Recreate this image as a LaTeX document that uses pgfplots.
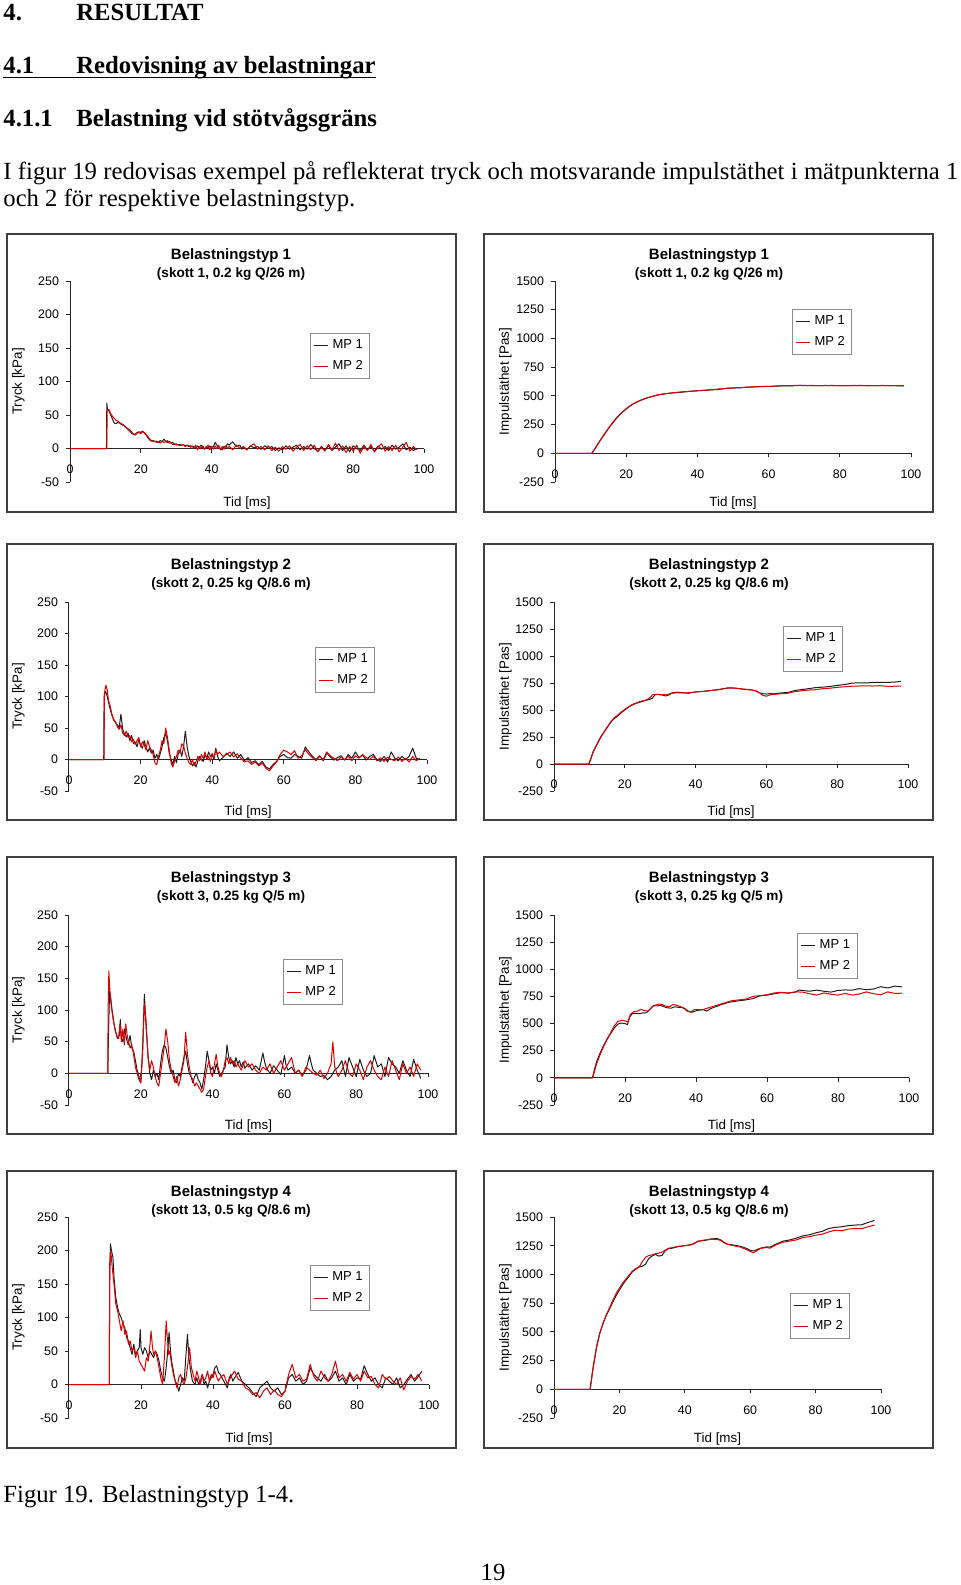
\documentclass[border=0pt]{standalone}
\usepackage{fontspec}
\setmainfont{Liberation Serif}
\newfontfamily\arial{Liberation Sans}
\usepackage{pgfplots}
\pgfplotsset{compat=1.18}
\definecolor{mpred}{RGB}{225,0,0}
\definecolor{mpblk}{RGB}{30,30,30}
\pgfplotsset{
  panel/.style={
    scale only axis, anchor=south west,
    xmin=0, xmax=100, xtick={0,20,...,100},
    axis x line=middle, axis y line=left,
    axis line style={-, black!85, line width=0.5pt},
    tick align=outside, major tick length=2pt,
    tick style={black!85, line width=0.5pt},
    hide obscured x ticks=false, hide obscured y ticks=false,
    /pgf/number format/assume math mode=true,
    /pgf/number format/1000 sep={},
    ticklabel style={font=\arial\fontsize{6.2}{7}\selectfont, text=black},
    xticklabel style={yshift=-2.5pt},
    legend style={draw=black!45, line width=0.5pt, fill=white,
      font=\arial\fontsize{6.5}{7.5}\selectfont, anchor=north west,
      inner xsep=1.5pt, inner ysep=1pt, row sep=0.5pt},
    legend cell align=left,
    legend image code/.code={\draw[#1] (0pt,0pt) -- (7pt,0pt);},
  },
  pres/.style={panel, ymin=-50, ymax=250, ytick={-50,0,...,250}},
  imp/.style={panel, ymin=-250, ymax=1500, ytick={-250,0,...,1500}},
  mp1/.style={color=mpblk, line width=0.5pt, line join=round},
  mp2/.style={color=mpred, line width=0.5pt, line join=round},
}
\newcommand{\bodyfont}{\fontsize{12.35}{14}\selectfont}
\newcommand{\titfont}{\arial\bfseries\fontsize{7.5}{9}\selectfont}
\newcommand{\subfont}{\arial\bfseries\fontsize{6.8}{8}\selectfont}
\newcommand{\labfont}{\arial\fontsize{6.7}{8}\selectfont}
\begin{document}
\begin{tikzpicture}
\begin{scope}[x=0.5pt,y=-0.5pt]
\path[use as bounding box] (0,0) rectangle (960,1585);
% page text
\node[anchor=base west, inner sep=0, font=\bodyfont\bfseries] at (3,20) {4.};
\node[anchor=base west, inner sep=0, font=\bodyfont\bfseries] at (76,20) {RESULTAT};
\node[anchor=base west, inner sep=0, font=\bodyfont\bfseries] (h41) at (3,73.5) {4.1};
\node[anchor=base west, inner sep=0, font=\bodyfont\bfseries] (red) at (76,73.5) {Redovisning av belastningar};
\draw[line width=0.6pt] ([yshift=-2pt]h41.base west) -- ([yshift=-2pt]red.base east);
\node[anchor=base west, inner sep=0, font=\bodyfont\bfseries] at (3,126) {4.1.1};
\node[anchor=base west, inner sep=0, font=\bodyfont\bfseries] at (76,126) {Belastning vid stötvågsgräns};
\node[anchor=base west, inner sep=0, font=\bodyfont] at (3,179) {\makebox[477.5pt][s]{I figur 19 redovisas exempel på reflekterat tryck och motsvarande impulstäthet i mätpunkterna 1}};
\node[anchor=base west, inner sep=0, font=\bodyfont] at (3,206) {och 2 för respektive belastningstyp.};
\node[anchor=base west, inner sep=0, font=\bodyfont] at (3,1502) {Figur 19. Belastningstyp 1-4.};
\node[anchor=base, inner sep=0, font=\bodyfont] at (493,1580) {19};
% frames
\foreach \t/\b in {234/512, 544/820, 857/1134, 1171/1448}{
  \draw[black!75, line width=0.7pt] (7,\t) rectangle (456,\b);
  \draw[black!75, line width=0.7pt] (484,\t) rectangle (933,\b);
}
% titles
\foreach \t/\n/\s in {234/1/{(skott 1, 0.2 kg Q/26 m)}, 544/2/{(skott 2, 0.25 kg Q/8.6 m)}, 857/3/{(skott 3, 0.25 kg Q/5 m)}, 1171/4/{(skott 13, 0.5 kg Q/8.6 m)}}{
  \node[anchor=base, inner sep=0, font=\titfont] at (231,\t+25.5) {Belastningstyp \n};
  \node[anchor=base, inner sep=0, font=\subfont] at (231,\t+43.5) {\s};
  \node[anchor=base, inner sep=0, font=\titfont] at (709,\t+25.5) {Belastningstyp \n};
  \node[anchor=base, inner sep=0, font=\subfont] at (709,\t+43.5) {\s};
}
% axis labels
\foreach \c/\yb/\xl/\xr in {381.5/506/247/733, 696.5/815/248/731, 1010/1129/248.5/731.5, 1317.5/1442/249/717.5}{
  \node[rotate=90, inner sep=0, font=\labfont] at (18.5,\c) {Tryck [kPa]};
  \node[rotate=90, inner sep=0, font=\labfont] at (505.5,\c) {Impulstäthet [Pas]};
  \node[anchor=base, inner sep=0, font=\labfont] at (\xl,\yb) {Tid [ms]};
  \node[anchor=base, inner sep=0, font=\labfont] at (\xr,\yb) {Tid [ms]};
}
\coordinate (A1) at (70,482);
\coordinate (B1) at (555,482);
\coordinate (A2) at (69,791);
\coordinate (B2) at (554,791);
\coordinate (A3) at (69,1105);
\coordinate (B3) at (554,1105);
\coordinate (A4) at (69,1418);
\coordinate (B4) at (554,1418);
\end{scope}

% ---------- Row 1 ----------
\begin{axis}[pres, at={(A1)}, width=177pt, height=100.5pt, legend style={at={(0.678,0.741)}}]
\addplot[mp1] coordinates {(0,0)(10.3,0)(10.4,68)(10.6,58)(11,56)(11.5,50)(12,44)(12.5,38)(13,37)(13.5,39)(14,38)(14.5,36)(15,35)(15.5,33)(16,31)(16.5,29)(17,27)(17.5,24)(18,21)(18.5,22)(19,24)(19.5,25)(20,24)(20.5,26)(21,23)(21.5,20)(22,16)(22.5,13)(23,11)(23.5,12)(24,10)(24.5,11)(25,9)(25.5,12)(26,10)(26.5,14)(27,11)(27.5,9)(28,11)(28.5,8)(29,9)(29.5,6)(30,7)(30.5,5)(31,6)(31.5,5)(32,6)(32.5,4)(33,5)(33.5,3)(34,4)(34.5,2)(35,3)(35.5,0)(36,4)(36.5,2)(37,5)(37.5,1)(38,-1)(38.5,3)(39,0)(39.5,4)(40,1)(40.5,3)(41,9)(41.5,5)(42,2)(42.5,-1)(43,-2)(43.5,3)(44,2)(44.5,7)(45,5)(45.5,8)(46,10)(46.5,6)(47,3)(48,5)(48.5,-1)(49,2)(50,-2)(51,4)(52,1)(53,3)(54,-1)(55,4)(56,0)(57,3)(58,-3)(59,1)(60,-2)(61,4)(62,-1)(63,2)(64,5)(65,-2)(66,3)(67,-1)(68,6)(69,0)(70,-4)(71,3)(72,-2)(73,4)(74,-3)(75,2)(76,7)(77,-3)(78,4)(79,-5)(80,4)(81,0)(82,-3)(83,5)(84,-2)(85,3)(86,-4)(87,4)(88,-1)(89,3)(90,-3)(91,5)(92,-1)(93,2)(94,7)(95,-2)(96,2)(97,-3)(98,0)};
\addlegendentry{MP 1}
\addplot[mp2] coordinates {(0,0)(10.4,0)(10.5,58)(11,58)(11.5,52)(12,48)(12.5,45)(13,42)(13.5,41)(14,39)(14.5,37)(15,36)(15.5,33)(16,30)(16.5,28)(17,25)(17.5,22)(18,21)(18.5,20)(19,23)(19.5,24)(20,22)(20.5,25)(21,24)(21.5,21)(22,18)(22.5,14)(23,12)(23.5,10)(24,11)(24.5,9)(25,10)(25.5,8)(26,11)(26.5,9)(27,10)(27.5,12)(28,8)(28.5,9)(29,6)(29.5,7)(30,5)(30.5,6)(31,4)(31.5,5)(32,6)(32.5,3)(33,4)(33.5,5)(34,2)(34.5,4)(35,1)(35.5,5)(36,-2)(36.5,3)(37,0)(37.5,4)(38,-1)(38.5,2)(39,5)(39.5,-2)(40,3)(40.5,-1)(41,4)(41.5,0)(42,5)(42.5,-2)(43,3)(43.5,-1)(44,4)(44.5,0)(45,3)(46,-2)(47,5)(48,0)(49,3)(50,-2)(51,4)(52,7)(53,-1)(54,3)(55,-2)(56,4)(57,-3)(58,2)(59,-4)(60,3)(61,-1)(62,4)(63,-4)(64,2)(65,6)(66,-3)(67,4)(68,-2)(69,5)(70,-5)(71,2)(72,-4)(73,6)(74,-2)(75,8)(76,-3)(77,4)(78,-6)(79,3)(80,-4)(81,5)(82,-7)(83,3)(84,-3)(85,6)(86,-5)(87,2)(88,7)(89,-4)(90,3)(91,-3)(92,5)(93,-5)(94,2)(95,9)(96,-4)(97,3)(98,-2)};
\addlegendentry{MP 2}
\end{axis}

\begin{axis}[imp, at={(B1)}, width=178pt, height=100.5pt, legend style={at={(0.666,0.861)}}]
\addplot[mp1] coordinates {(0,0)(10.3,0)(11,30)(12,80)(13,125)(14,170)(15,215)(16,255)(17,295)(18,330)(19,360)(20,385)(21,410)(22,430)(23,445)(24,460)(25,472)(26,482)(27,492)(28,500)(29,508)(30,514)(32,522)(34,528)(36,533)(38,540)(40,545)(42,548)(44,552)(46,556)(48,566)(50,568)(52,570)(54,575)(56,578)(58,580)(60,583)(62,584)(64,587)(66,586)(68,590)(70,591)(72,588)(74,590)(76,589)(78,591)(80,588)(82,590)(84,589)(86,591)(88,588)(90,590)(92,589)(94,590)(96,588)(98,587)};
\addlegendentry{MP 1}
\addplot[mp2] coordinates {(0,0)(10.4,0)(11,28)(12,78)(13,128)(14,174)(15,218)(16,260)(17,298)(18,333)(19,362)(20,388)(21,412)(22,432)(23,447)(24,461)(25,474)(26,484)(27,493)(28,502)(29,509)(30,515)(32,523)(34,530)(36,536)(38,539)(40,544)(42,549)(44,554)(46,560)(48,564)(50,570)(52,572)(54,576)(56,579)(58,582)(60,582)(62,586)(64,589)(66,588)(68,592)(70,589)(72,591)(74,588)(76,591)(78,588)(80,590)(82,588)(84,591)(86,588)(88,590)(90,588)(92,591)(94,588)(96,590)(98,588)};
\addlegendentry{MP 2}
\end{axis}

% ---------- Row 2 ----------
\begin{axis}[pres, at={(A2)}, width=179pt, height=94.5pt, legend style={at={(0.687,0.762)}}]
\addplot[mp1] coordinates {(0,0)(9.7,0)(9.8,100)(10.2,108)(10.5,104)(11,92)(11.5,80)(12,70)(12.5,64)(13,58)(13.5,55)(14,50)(14.5,72)(15,48)(15.5,40)(16,36)(16.5,42)(17,30)(17.5,38)(18,25)(18.5,28)(19,20)(19.5,32)(20,22)(20.5,18)(21,30)(21.5,20)(22,12)(22.5,18)(23,10)(23.5,15)(24,2)(24.5,8)(25,0)(25.5,10)(26,20)(26.5,35)(27,42)(27.5,30)(28,10)(28.5,0)(29,-8)(29.5,5)(30,-5)(30.5,8)(31,15)(31.5,5)(32,20)(32.5,45)(33,20)(33.5,5)(34,-3)(34.5,-10)(35,-5)(35.5,-12)(36,-2)(36.5,5)(37,0)(37.5,-3)(38,8)(38.5,2)(39,12)(39.5,5)(40,8)(40.5,0)(41,18)(41.5,5)(42,-2)(43,3)(44,10)(45,5)(46,12)(47,2)(48,8)(49,-2)(50,3)(51,-5)(52,-2)(53,-8)(54,-3)(55,-12)(56,-15)(57,-8)(58,-3)(59,5)(60,8)(61,3)(62,2)(63,8)(64,5)(65,2)(66,20)(67,12)(68,5)(69,0)(70,6)(71,-2)(72,10)(73,4)(74,-1)(75,3)(76,6)(77,-1)(78,8)(79,2)(80,12)(81,3)(82,7)(83,-1)(84,5)(85,8)(86,0)(87,-3)(88,5)(89,-4)(90,12)(91,2)(92,-2)(93,5)(94,0)(95,5)(96,18)(97,2)(98,0)};
\addlegendentry{MP 1}
\addplot[mp2] coordinates {(0,0)(9.8,0)(9.9,105)(10.3,118)(10.7,110)(11,95)(11.5,85)(12,72)(12.5,62)(13,60)(13.5,52)(14,48)(14.5,55)(15,42)(15.5,38)(16,45)(16.5,35)(17,38)(17.5,28)(18,32)(18.5,24)(19,30)(19.5,35)(20,20)(20.5,28)(21,24)(21.5,15)(22,30)(22.5,20)(23,15)(23.5,8)(24,-5)(24.5,-8)(25,5)(25.5,15)(26,30)(26.5,25)(27,50)(27.5,35)(28,15)(28.5,-5)(29,-12)(29.5,-2)(30,5)(30.5,15)(31,10)(31.5,25)(32,22)(32.5,10)(33,2)(33.5,-5)(34,-8)(34.5,0)(35,-10)(35.5,-3)(36,5)(36.5,-2)(37,8)(37.5,2)(38,12)(38.5,0)(39,5)(39.5,-3)(40,10)(40.5,2)(41,15)(41.5,8)(42,12)(43,5)(44,8)(45,12)(46,4)(47,9)(48,2)(49,-4)(50,-2)(51,-8)(52,-4)(53,-10)(54,-6)(55,-14)(56,-18)(57,-10)(58,-4)(59,8)(60,15)(61,12)(62,8)(63,14)(64,2)(65,6)(66,16)(67,8)(68,3)(69,-2)(70,5)(71,0)(72,12)(73,6)(74,2)(75,-2)(76,4)(77,0)(78,5)(79,-2)(80,6)(81,2)(82,8)(83,3)(84,0)(85,5)(86,-2)(87,3)(88,-3)(89,4)(90,0)(91,-2)(92,4)(93,-3)(94,2)(95,-4)(96,5)(97,-2)(98,2)};
\addlegendentry{MP 2}
\end{axis}

\begin{axis}[imp, at={(B2)}, width=177pt, height=94.5pt, legend style={at={(0.647,0.873)}}]
\addplot[mp1] coordinates {(0,0)(9.8,0)(10.5,60)(11,110)(12,175)(13,240)(14,290)(15,340)(16,385)(17,420)(18,445)(19,475)(20,500)(21,525)(22,545)(23,560)(24,570)(25,580)(26,590)(27,598)(27.8,610)(28.5,640)(29.5,645)(30.5,640)(31.5,630)(32.5,640)(33.5,660)(35,665)(36.5,660)(38,655)(40,668)(42,672)(44,680)(46,688)(48,698)(50,706)(52,700)(54,690)(56,685)(57,675)(58,660)(59,650)(60,648)(61,652)(62,650)(64,658)(66,662)(68,680)(70,690)(72,698)(74,708)(76,712)(78,718)(80,728)(82,735)(84,748)(86,752)(88,750)(90,755)(92,757)(94,756)(96,758)(98,765)};
\addlegendentry{MP 1}
\addplot[mp2] coordinates {(0,0)(9.9,0)(10.5,55)(11,105)(12,170)(13,235)(14,288)(15,335)(16,390)(17,428)(18,452)(19,482)(20,505)(21,528)(22,548)(23,562)(24,575)(25,585)(26,593)(27,610)(28,645)(29,645)(30,640)(31,645)(32,640)(33,655)(35,660)(37,658)(39,663)(41,670)(43,675)(45,682)(47,690)(49,705)(51,702)(53,695)(55,690)(57,678)(58,660)(59,635)(60,628)(61,640)(62,645)(64,650)(66,655)(68,670)(70,678)(72,685)(74,688)(76,698)(78,702)(80,710)(82,715)(84,720)(86,722)(88,724)(90,722)(92,725)(94,720)(96,720)(98,722)};
\addlegendentry{MP 2}
\end{axis}

% ---------- Row 3 ----------
\begin{axis}[pres, at={(A3)}, width=179.5pt, height=95pt, legend style={at={(0.596,0.768)}}]
\addplot[mp1] coordinates {(0,0)(10.8,0)(11,60)(11.3,130)(11.6,120)(12,100)(12.5,80)(13,65)(13.5,55)(14,60)(14.3,85)(14.6,55)(15,50)(15.5,70)(16,55)(16.5,45)(17,60)(17.5,40)(18,35)(18.5,20)(19,5)(19.5,-5)(20,-15)(20.5,40)(21,125)(21.5,70)(22,30)(22.5,0)(23,-10)(23.5,5)(24,-5)(24.5,0)(25,-10)(25.5,15)(26,35)(26.5,45)(27,40)(27.5,25)(28,10)(28.5,0)(29,5)(29.5,-10)(30,-15)(30.5,0)(31,-5)(31.5,10)(32,25)(32.5,35)(33,15)(33.5,0)(34,-5)(34.5,-15)(35,-5)(35.5,0)(36,-10)(36.5,-15)(37,-25)(37.5,-10)(38,10)(38.5,35)(39,20)(39.5,5)(40,10)(40.5,0)(41,15)(41.5,5)(42,-5)(42.5,0)(43,5)(43.5,10)(44,45)(44.5,25)(45,15)(45.5,20)(46,10)(46.5,25)(47,15)(47.5,20)(48,10)(48.5,18)(49,8)(50,15)(51,5)(52,12)(53,5)(54,32)(54.5,18)(55,8)(56,0)(57,12)(58,5)(59,-2)(60,28)(60.5,12)(61,5)(62,10)(63,0)(64,5)(65,-3)(66,5)(67,28)(67.5,15)(68,5)(69,0)(70,-5)(71,-3)(72,-10)(73,-5)(74,5)(75,10)(76,20)(77,-5)(78,25)(79,10)(80,-5)(81,22)(82,5)(83,-5)(84,0)(85,28)(86,10)(87,15)(88,-5)(89,25)(90,15)(91,10)(92,0)(93,20)(94,5)(95,-5)(96,22)(97,5)(98,-8)};
\addlegendentry{MP 1}
\addplot[mp2] coordinates {(0,0)(10.8,0)(10.9,100)(11.1,162)(11.4,130)(11.8,105)(12.3,85)(12.8,70)(13.3,60)(13.8,55)(14.2,78)(14.6,50)(15,70)(15.4,45)(15.8,78)(16.2,60)(16.6,50)(17,40)(17.5,45)(18,30)(18.5,10)(19,0)(19.5,-10)(20,-15)(20.5,30)(21,110)(21.5,80)(22,25)(22.5,5)(23,20)(23.5,10)(24,-5)(24.5,-15)(25,-20)(25.5,0)(26,20)(26.5,40)(27,70)(27.5,50)(28,20)(28.5,5)(29,-5)(29.5,-15)(30,-5)(30.5,-20)(31,-10)(31.5,5)(32,20)(32.5,65)(33,30)(33.5,10)(34,-5)(34.5,-10)(35,-20)(35.5,-15)(36,-20)(36.5,-25)(37,-30)(37.5,-25)(38,-5)(38.5,10)(39,20)(39.5,0)(40,-5)(40.5,15)(41,30)(41.5,10)(42,0)(42.5,-5)(43,5)(43.5,20)(44,25)(44.5,15)(45,25)(45.5,15)(46,20)(46.5,10)(47,15)(48,5)(49,20)(50,10)(51,15)(52,5)(53,0)(54,10)(55,5)(56,15)(57,0)(58,10)(59,20)(60,5)(61,15)(62,25)(63,0)(64,5)(65,-5)(66,10)(67,5)(68,0)(69,-3)(70,5)(71,-8)(72,0)(73,15)(73.5,50)(74,10)(75,-5)(76,5)(77,20)(78,0)(79,-5)(80,15)(81,5)(82,-10)(83,10)(84,20)(85,5)(86,-5)(87,-10)(88,10)(89,-5)(90,20)(91,5)(92,-10)(93,15)(94,0)(95,10)(96,-5)(97,15)(98,5)};
\addlegendentry{MP 2}
\end{axis}

\begin{axis}[imp, at={(B3)}, width=177.5pt, height=95pt, legend style={at={(0.685,0.905)}}]
\addplot[mp1] coordinates {(0,0)(10.8,0)(11.5,90)(12,150)(13,230)(14,300)(15,360)(16,410)(17,460)(18,495)(19,505)(20,500)(20.7,490)(21.3,560)(22,590)(23,595)(24,592)(25,598)(26,600)(27,630)(28,665)(29,662)(30,668)(31,655)(32,645)(33,642)(34,655)(35,650)(36,648)(37,635)(38,610)(39,605)(40,618)(41,625)(42,630)(43,615)(44,635)(45,650)(46,660)(47,675)(48,682)(49,695)(50,700)(52,710)(54,718)(56,730)(58,755)(60,762)(62,775)(64,785)(66,780)(68,790)(69,808)(70,805)(72,798)(74,808)(76,798)(78,790)(80,805)(82,810)(84,808)(86,822)(88,812)(90,818)(92,840)(94,828)(96,845)(98,838)};
\addlegendentry{MP 1}
\addplot[mp2] coordinates {(0,0)(10.9,0)(11.5,70)(12,130)(13,215)(14,290)(15,355)(16,420)(17,480)(18,520)(19,530)(20,525)(20.8,515)(21.5,585)(22.5,610)(23.5,615)(24.5,630)(25.5,620)(26.5,615)(27.5,650)(28.5,670)(29.5,680)(30.5,675)(31.5,660)(32.5,655)(33.5,675)(34.5,670)(35.5,658)(36.5,645)(37.5,615)(38.5,605)(39.5,628)(40.5,630)(41.5,625)(42.5,635)(43.5,645)(45,660)(46.5,675)(48,690)(50,710)(52,718)(54,725)(56,750)(58,758)(60,765)(62,782)(64,788)(66,782)(68,792)(70,790)(72,775)(74,762)(76,782)(78,770)(80,762)(82,778)(84,762)(86,772)(88,792)(90,775)(92,765)(94,792)(96,778)(98,780)};
\addlegendentry{MP 2}
\end{axis}

% ---------- Row 4 ----------
\begin{axis}[pres, at={(A4)}, width=180pt, height=100.5pt, legend style={at={(0.669,0.761)}}]
\addplot[mp1] coordinates {(0,0)(11.2,0)(11.3,150)(11.5,210)(11.8,200)(12.2,190)(12.5,160)(13,130)(13.5,115)(14,105)(14.5,100)(15,90)(15.5,85)(16,70)(16.5,65)(17,55)(17.5,45)(18,60)(18.5,45)(19,50)(19.5,55)(19.8,82)(20,55)(20.5,45)(21,55)(21.5,50)(22,40)(22.5,50)(23,45)(23.5,40)(24,50)(24.5,45)(25,35)(25.5,20)(26,10)(26.5,5)(27,25)(27.5,55)(27.8,78)(28.2,50)(28.5,35)(29,20)(29.5,5)(30,0)(30.5,-10)(31,0)(31.5,10)(32,5)(32.5,45)(32.9,75)(33.3,40)(33.8,20)(34.3,5)(35,0)(35.5,10)(36,0)(36.5,5)(37,15)(37.5,0)(38,5)(38.5,-5)(39,5)(39.5,10)(40,15)(40.5,25)(41,28)(41.5,18)(42,15)(42.5,10)(43,5)(43.5,0)(44,-5)(44.5,10)(45,15)(45.5,5)(46,10)(47,18)(48,5)(49,0)(50,-5)(51,-12)(52,-18)(53,-5)(54,0)(55,5)(56,-5)(57,-10)(58,-5)(59,-15)(60,-10)(61,10)(62,15)(63,5)(64,10)(65,0)(66,5)(67,25)(68,15)(69,10)(70,5)(71,15)(72,5)(73,10)(74,20)(75,5)(76,10)(77,0)(78,15)(79,5)(80,10)(81,8)(82,28)(83,15)(84,5)(85,10)(86,0)(87,-5)(88,10)(89,5)(90,0)(91,10)(92,-5)(93,0)(94,8)(95,15)(96,5)(97,12)(98,20)};
\addlegendentry{MP 1}
\addplot[mp2] coordinates {(0,0)(11.2,0)(11.3,180)(11.6,200)(12,175)(12.5,150)(13,120)(13.5,110)(14,95)(14.5,80)(15,95)(15.5,75)(16,80)(16.5,60)(17,65)(17.5,50)(18,55)(18.5,40)(19,50)(19.5,35)(20,30)(20.5,25)(21,20)(21.5,40)(22,35)(22.5,60)(22.8,80)(23.2,55)(23.5,45)(24,50)(24.5,40)(25,25)(25.5,10)(26,0)(26.5,40)(27,95)(27.3,70)(27.7,45)(28,50)(28.5,30)(29,15)(29.5,5)(30,-5)(30.5,10)(31,15)(31.5,5)(32,0)(32.5,10)(33,30)(33.5,55)(34,25)(34.5,15)(35,5)(35.5,20)(36,10)(36.5,0)(37,15)(37.5,5)(38,10)(38.5,20)(39,5)(39.5,15)(40,10)(40.5,20)(41,12)(41.5,5)(42,10)(43,15)(44,0)(45,12)(46,20)(47,8)(48,5)(49,-5)(50,-8)(51,-15)(52,-12)(53,-20)(54,-10)(55,-5)(56,-15)(57,-8)(58,-15)(59,-18)(60,-10)(61,15)(62,30)(63,10)(64,15)(65,5)(66,8)(67,30)(68,12)(69,5)(70,20)(71,10)(72,5)(73,15)(74,35)(75,10)(76,15)(77,5)(78,18)(79,8)(80,15)(81,5)(82,20)(83,10)(84,12)(85,0)(86,-5)(87,15)(88,8)(89,12)(90,5)(91,0)(92,10)(93,-8)(94,5)(95,12)(96,8)(97,15)(98,5)};
\addlegendentry{MP 2}
\end{axis}

\begin{axis}[imp, at={(B4)}, width=163.5pt, height=100.5pt, legend style={at={(0.722,0.622)}}]
\addplot[mp1] coordinates {(0,0)(11,0)(11.5,100)(12,200)(13,370)(14,490)(15,575)(16,645)(17,700)(18,760)(19,815)(20,865)(21,910)(22,950)(23,985)(24,1025)(25,1045)(26,1065)(27,1070)(28,1090)(29,1140)(30,1160)(31,1175)(32,1160)(33,1165)(34,1205)(35,1225)(36,1228)(38,1242)(40,1250)(42,1260)(43,1270)(44,1290)(46,1295)(48,1310)(50,1312)(51,1300)(52,1280)(53,1265)(55,1255)(57,1245)(59,1225)(60,1210)(61,1205)(62,1215)(63,1228)(65,1240)(66,1238)(68,1265)(70,1290)(72,1300)(74,1315)(76,1335)(78,1345)(80,1362)(82,1375)(84,1400)(86,1410)(88,1415)(90,1425)(92,1430)(94,1432)(96,1452)(98,1470)};
\addlegendentry{MP 1}
\addplot[mp2] coordinates {(0,0)(11.1,0)(11.5,90)(12,190)(13,360)(14,485)(15,575)(16,650)(17,710)(18,775)(19,835)(20,880)(21,925)(22,960)(23,995)(24,1030)(25,1050)(26,1065)(27,1110)(28,1150)(29,1165)(30,1170)(31,1180)(32,1185)(33,1195)(34,1210)(35,1228)(36,1232)(38,1245)(40,1250)(42,1258)(43,1275)(44,1288)(46,1300)(48,1305)(50,1305)(51,1295)(52,1275)(53,1262)(55,1250)(57,1238)(59,1215)(60,1200)(61,1190)(62,1205)(63,1225)(65,1235)(66,1228)(68,1260)(70,1280)(72,1290)(74,1300)(76,1320)(78,1328)(80,1342)(82,1350)(84,1370)(86,1385)(88,1380)(90,1395)(92,1400)(94,1398)(96,1415)(98,1430)};
\addlegendentry{MP 2}
\end{axis}
\end{tikzpicture}
\end{document}
